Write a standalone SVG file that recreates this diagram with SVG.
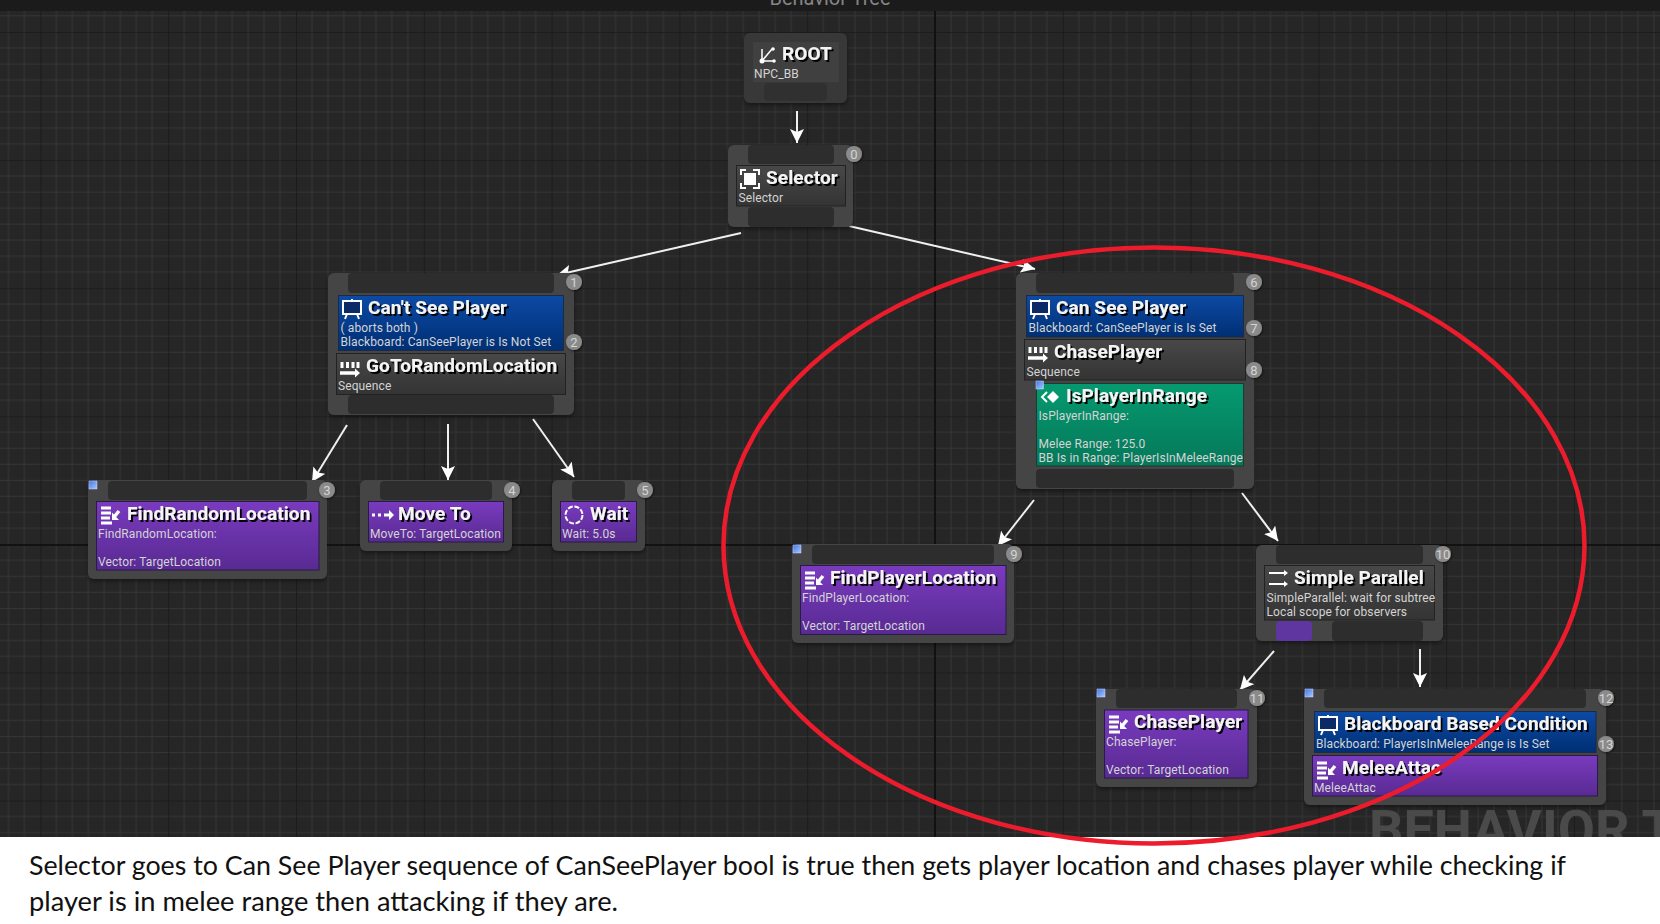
<svg xmlns="http://www.w3.org/2000/svg" width="1660" height="924" viewBox="0 0 1660 924">
<style>
.n{fill:#454545}
.r{fill:#393939}
.s{fill:#2d2d2d}
.d{fill:url(#gd);stroke:#222;stroke-width:1}
.b{fill:url(#gb);stroke:#1c2a44;stroke-width:1}
.p{fill:url(#gp);stroke:#2a1a48;stroke-width:1}
.g{fill:url(#gg);stroke:#1f3a30;stroke-width:1}
.q{fill:url(#gq);stroke:#c8d8ff;stroke-width:.5}
.t{font:700 19px Roboto,"Liberation Sans",sans-serif;fill:#f4f4f4;letter-spacing:.1px;filter:url(#ts)}
.u{font:400 12px Roboto,"Liberation Sans",sans-serif;fill:#d4d4d4;letter-spacing:.1px}
.c{fill:#8a8a8a;filter:url(#bs)}
.k{font:400 13px Roboto,"Liberation Sans",sans-serif;fill:#d4d4d4;text-anchor:middle}
.i{fill:none;stroke:#fff;stroke-width:2}
.f{fill:#fff}
.cn line{stroke:#f0f0f0;stroke-width:2;marker-end:url(#ah)}
.x{font:400 27.5px Lato,"Liberation Sans",sans-serif;fill:#111}
</style>
<defs>
<pattern id="grid" width="127.8" height="128.1" patternUnits="userSpaceOnUse" patternTransform="translate(935 32)">
<rect width="127.8" height="128.1" fill="#262626"/>
<path d="M16 0V128.1M31.95 0V128.1M47.9 0V128.1M63.9 0V128.1M79.9 0V128.1M95.85 0V128.1M111.8 0V128.1M0 16H127.8M0 32H127.8M0 48H127.8M0 64H127.8M0 80H127.8M0 96H127.8M0 112H127.8" stroke="#363636" stroke-width="1" fill="none"/>
<path d="M0 0V128.1M0 0H127.8" stroke="#191919" stroke-width="1.6" fill="none"/>
</pattern>
<linearGradient id="gd" x1="0" y1="0" x2="0" y2="1"><stop offset="0" stop-color="#484848"/><stop offset="1" stop-color="#343434"/></linearGradient>
<linearGradient id="gb" x1="0" y1="0" x2="0" y2="1"><stop offset="0" stop-color="#0c4aa4"/><stop offset="1" stop-color="#002f74"/></linearGradient>
<linearGradient id="gp" x1="0" y1="0" x2="0" y2="1"><stop offset="0" stop-color="#7a3bbf"/><stop offset="1" stop-color="#582a92"/></linearGradient>
<linearGradient id="gg" x1="0" y1="0" x2="0" y2="1"><stop offset="0" stop-color="#059a70"/><stop offset="1" stop-color="#06785a"/></linearGradient>
<linearGradient id="gq" x1="0" y1="0" x2="1" y2="1"><stop offset="0" stop-color="#3f78e8"/><stop offset="1" stop-color="#a9c6ff"/></linearGradient>
<filter id="ts" x="-5%" y="-20%" width="112%" height="150%"><feDropShadow dx="2" dy="2" stdDeviation=".3" flood-color="#000" flood-opacity=".95"/></filter>
<filter id="bs" x="-30%" y="-30%" width="170%" height="170%"><feDropShadow dx="0.8" dy="1" stdDeviation="1" flood-color="#000" flood-opacity=".6"/></filter>
<filter id="ns" x="-5%" y="-5%" width="110%" height="115%"><feDropShadow dx="0" dy="2" stdDeviation="2" flood-color="#000" flood-opacity=".45"/></filter>
<marker id="ah" viewBox="0 0 12 12" refX="12" refY="6" markerWidth="14" markerHeight="14" markerUnits="userSpaceOnUse" orient="auto"><path d="M12 6L0 0L2.5 6L0 12Z" fill="#fff"/></marker>
<g id="ic-board"><rect x="1" y="2" width="18" height="13" fill="#0b2a66" stroke="#fff" stroke-width="2"/><path d="M10 0V2M5 15L3 20M15 15L17 20" stroke="#fff" stroke-width="2" fill="none"/></g>
<g id="ic-seq"><path d="M2 2V8M7.500 2V8M13 2V8M18 2V8" stroke="#fff" stroke-width="3" fill="none"/><path d="M0 13H16" stroke="#fff" stroke-width="3.500" fill="none"/><path d="M15 8.500L20 13L15 17.500Z" fill="#fff"/></g>
<g id="ic-task"><path d="M1 3H11M1 8H11M1 13H10M1 18H12" stroke="#fff" stroke-width="3" fill="none"/><path d="M19 6L14 12" stroke="#fff" stroke-width="3.500" fill="none"/><path d="M12 7.500L19 15H12Z" fill="#fff"/></g>
</defs>
<rect width="1660" height="837" fill="url(#grid)"/>
<path d="M935 11V837M0 545H1660" stroke="#0e0e0e" stroke-width="1.600" fill="none"/>
<text x="1369" y="848" font-family="Roboto,'Liberation Sans',sans-serif" font-weight="700" font-size="54" fill="#4a4a4a">BEHAVIOR T</text>
<rect width="1660" height="11" fill="#1b1b1b"/>
<text x="830" y="5" text-anchor="middle" font-family="Roboto,'Liberation Sans',sans-serif" font-size="20" fill="#858585">Behavior Tree</text>
<g id="connectors" class="cn">
<line x1="797" y1="111" x2="797" y2="143"/>
<line x1="741" y1="233" x2="557" y2="275"/>
<line x1="849" y1="226" x2="1035" y2="269"/>
<line x1="347" y1="425" x2="312" y2="482"/>
<line x1="448" y1="424" x2="448" y2="480"/>
<line x1="533" y1="419" x2="574" y2="477"/>
<line x1="1034" y1="500" x2="998" y2="546"/>
<line x1="1242" y1="493" x2="1278" y2="541"/>
<line x1="1274" y1="651" x2="1240" y2="690"/>
<line x1="1420" y1="649" x2="1420" y2="687"/>
</g>
<g id="root"><rect class="r" x="744" y="33" width="103" height="70" rx="6" filter="url(#ns)"/><rect x="753" y="42" width="86" height="40" fill="#404040"/><rect class="s" x="764" y="83" width="63" height="18" rx="4" fill-opacity=".7"/>
<g transform="translate(758 47)"><path d="M4 14L14 2M4 14H16M4 14V2" stroke="#fff" stroke-width="1.500" fill="none"/><circle cx="4" cy="14" r="2.500" class="f"/><circle cx="15" cy="2" r="1.800" class="f"/><circle cx="16" cy="14" r="1.800" class="f"/></g>
<text class="t" x="782" y="60">ROOT</text><text class="u" x="754" y="78">NPC_BB</text></g>
<g id="selector"><rect class="n" x="728" y="145" width="125" height="82" rx="6" filter="url(#ns)"/><rect class="s" x="748" y="145" width="86" height="19" rx="4"/><rect class="s" x="748" y="207" width="86" height="20" rx="4"/><rect class="d" x="736.500" y="165.500" width="109" height="40.500"/>
<path d="M741 175V170H746M753 170H759V175M759 183V188H753M746 188H741V183" class="i"/><rect x="744" y="173" width="12" height="12" class="f"/>
<text class="t" x="766" y="184">Selector</text><text class="u" x="738.500" y="202">Selector</text><circle class="c" cx="854" cy="154" r="8"/><text class="k" x="854" y="158.500">0</text></g>
<g id="cant-see-player"><rect class="n" x="328" y="273" width="246" height="142" rx="6" filter="url(#ns)"/><rect class="s" x="348" y="273" width="206" height="20" rx="4"/><rect class="s" x="348" y="395" width="206" height="19" rx="4"/><rect class="b" x="338.500" y="295.500" width="225" height="55"/><rect class="d" x="336.500" y="353.500" width="229" height="41"/>
<use href="#ic-board" x="342" y="299"/><text class="t" x="368" y="314">Can't See Player</text><text class="u" x="340.500" y="332">( aborts both )</text><text class="u" x="340.500" y="346">Blackboard: CanSeePlayer is Is Not Set</text>
<use href="#ic-seq" x="340" y="360"/><text class="t" x="366" y="372">GoToRandomLocation</text><text class="u" x="338" y="390">Sequence</text>
<circle class="c" cx="574" cy="282" r="8"/><text class="k" x="574" y="286.500">1</text><circle class="c" cx="574" cy="342" r="8"/><text class="k" x="574" y="346.500">2</text></g>
<g id="find-random-location"><rect class="n" x="88" y="480" width="239" height="99" rx="6" filter="url(#ns)"/><rect class="s" x="108" y="481" width="199" height="19" rx="4"/><rect class="p" x="96.500" y="501.500" width="222.500" height="68.500"/><rect class="q" x="89" y="481" width="8" height="8"/>
<use href="#ic-task" x="100" y="505"/><text class="t" x="127" y="520">FindRandomLocation</text><text class="u" x="98" y="538">FindRandomLocation:</text><text class="u" x="98" y="566">Vector: TargetLocation</text>
<circle class="c" cx="327" cy="490" r="8"/><text class="k" x="327" y="494.500">3</text></g>
<g id="move-to"><rect class="n" x="360" y="480" width="152" height="71" rx="6" filter="url(#ns)"/><rect class="s" x="380" y="481" width="112" height="19" rx="4"/><rect class="p" x="368.500" y="501.500" width="135" height="40.500"/>
<path d="M372 515H375M378 515H381M384 515H390" stroke="#fff" stroke-width="3" fill="none"/><path d="M389 510L394 515L389 520Z" class="f"/>
<text class="t" x="398" y="520">Move To</text><text class="u" x="370" y="538">MoveTo: TargetLocation</text><circle class="c" cx="512" cy="490" r="8"/><text class="k" x="512" y="494.500">4</text></g>
<g id="wait"><rect class="n" x="552" y="480" width="93" height="71" rx="6" filter="url(#ns)"/><rect class="s" x="572" y="481" width="53" height="19" rx="4"/><rect class="p" x="560.500" y="501.500" width="76" height="40.500"/>
<circle cx="574" cy="515" r="8.500" class="i" stroke-width="3.500" stroke-dasharray="5 1.700"/>
<text class="t" x="590" y="520">Wait</text><text class="u" x="562" y="538">Wait: 5.0s</text><circle class="c" cx="645" cy="490" r="8"/><text class="k" x="645" y="494.500">5</text></g>
<g id="can-see-player"><rect class="n" x="1016" y="273" width="238" height="216" rx="6" filter="url(#ns)"/><rect class="s" x="1036" y="273" width="198" height="20" rx="4"/><rect class="s" x="1036" y="469" width="198" height="19" rx="4"/><rect class="b" x="1026.500" y="295.500" width="217" height="41.500"/><rect class="d" x="1024.500" y="339.500" width="221" height="40.500"/><rect class="g" x="1036.500" y="383.500" width="207" height="82.500"/><rect class="q" x="1036" y="381" width="7.500" height="8"/>
<use href="#ic-board" x="1030" y="299"/><text class="t" x="1056" y="314">Can See Player</text><text class="u" x="1028.500" y="332">Blackboard: CanSeePlayer is Is Set</text>
<use href="#ic-seq" x="1028" y="345"/><text class="t" x="1054" y="358">ChasePlayer</text><text class="u" x="1026.500" y="376">Sequence</text>
<path d="M1047 392L1042 397L1047 402" class="i" stroke-width="2.600"/><path d="M1053 391L1059 397L1053 403L1047 397Z" class="f"/><text class="t" x="1066" y="402">IsPlayerInRange</text><text class="u" x="1038.500" y="420">IsPlayerInRange:</text><text class="u" x="1038.500" y="448">Melee Range: 125.0</text><text class="u" x="1038.500" y="462">BB Is in Range: PlayerIsInMeleeRange</text>
<circle class="c" cx="1254" cy="282" r="8"/><text class="k" x="1254" y="286.500">6</text><circle class="c" cx="1254" cy="328" r="8"/><text class="k" x="1254" y="332.500">7</text><circle class="c" cx="1254" cy="370" r="8"/><text class="k" x="1254" y="374.500">8</text></g>
<g id="find-player-location"><rect class="n" x="792" y="544" width="222" height="99" rx="6" filter="url(#ns)"/><rect class="s" x="812" y="545" width="182" height="19" rx="4"/><rect class="p" x="800.500" y="565.500" width="205.500" height="69"/><rect class="q" x="793" y="545" width="8" height="8"/>
<use href="#ic-task" x="804" y="570"/><text class="t" x="830" y="584">FindPlayerLocation</text><text class="u" x="802" y="602">FindPlayerLocation:</text><text class="u" x="802" y="630">Vector: TargetLocation</text><circle class="c" cx="1014" cy="554" r="8"/><text class="k" x="1014" y="558.500">9</text></g>
<g id="simple-parallel"><rect class="n" x="1256" y="545" width="187" height="96" rx="6" filter="url(#ns)"/><rect class="s" x="1276" y="545" width="147" height="19" rx="4"/><rect x="1276" y="621" width="36" height="20" rx="4" fill="#5f35a0"/><rect class="s" x="1332" y="621" width="91" height="20" rx="4"/><rect class="d" x="1264.500" y="565.500" width="170" height="54.500"/>
<path d="M1269 573H1285M1269 584H1285" stroke="#fff" stroke-width="2" fill="none"/><path d="M1284 570L1288 573L1284 576ZM1284 581L1288 584L1284 587Z" class="f"/>
<text class="t" x="1294" y="584">Simple Parallel</text><text class="u" x="1266.500" y="602">SimpleParallel: wait for subtree</text><text class="u" x="1266.500" y="616">Local scope for observers</text><circle class="c" cx="1443" cy="554" r="8"/><text class="k" x="1443" y="558.500">10</text></g>
<g id="chase-player-task"><rect class="n" x="1096" y="689" width="161" height="98" rx="6" filter="url(#ns)"/><rect class="s" x="1116" y="689" width="121" height="19" rx="4"/><rect class="p" x="1104.500" y="710" width="143.500" height="68"/><rect class="q" x="1097" y="689" width="8" height="8"/>
<use href="#ic-task" x="1108" y="714"/><text class="t" x="1134" y="728">ChasePlayer</text><text class="u" x="1106" y="746">ChasePlayer:</text><text class="u" x="1106" y="774">Vector: TargetLocation</text><circle class="c" cx="1257" cy="698" r="8"/><text class="k" x="1257" y="702.500">11</text></g>
<g id="melee-attack"><rect class="n" x="1304" y="689" width="302" height="116" rx="6" filter="url(#ns)"/><rect class="s" x="1324" y="689" width="262" height="19" rx="4"/><rect class="b" x="1314.500" y="711.500" width="281.500" height="41"/><rect class="p" x="1312.500" y="755.500" width="285" height="40.500"/><rect class="q" x="1305" y="689" width="8" height="8"/>
<use href="#ic-board" x="1318" y="715"/><text class="t" x="1344" y="730">Blackboard Based Condition</text><text class="u" x="1316" y="748">Blackboard: PlayerIsInMeleeRange is Is Set</text>
<use href="#ic-task" x="1316" y="760"/><text class="t" x="1342" y="774">MeleeAttac</text><text class="u" x="1314" y="792">MeleeAttac</text>
<circle class="c" cx="1606" cy="698" r="8"/><text class="k" x="1606" y="702.500">12</text><circle class="c" cx="1606" cy="744" r="8"/><text class="k" x="1606" y="748.500">13</text></g>
<rect y="837" width="1660" height="87" fill="#fff"/>
<ellipse cx="1154" cy="545.500" rx="430.500" ry="298" fill="none" stroke="#ed1c2c" stroke-width="4.500"/>
<text class="x" x="29" y="875" textLength="1537" lengthAdjust="spacingAndGlyphs">Selector goes to Can See Player sequence of CanSeePlayer bool is true then gets player location and chases player while checking if</text>
<text class="x" x="29" y="911" textLength="589" lengthAdjust="spacingAndGlyphs">player is in melee range then attacking if they are.</text>
</svg>
